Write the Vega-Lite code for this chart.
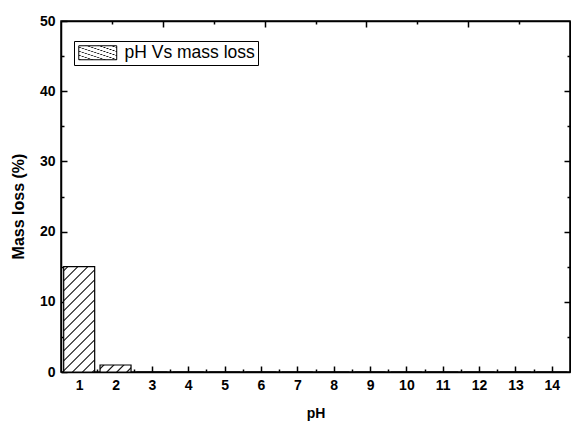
{
  "$schema": "https://vega.github.io/schema/vega-lite/v6.json",
  "width": 509,
  "height": 351,
  "autosize": "none",
  "padding": {"left": 61, "top": 21, "right": 1, "bottom": 49},
  "background": "white",
  "config": {
    "view": {"stroke": "black", "strokeWidth": 1.5},
    "font": "Liberation Sans",
    "axis": {
      "grid": false,
      "zindex": 1,
      "domainColor": "black",
      "domainWidth": 1.5,
      "tickColor": "black",
      "tickWidth": 1.5,
      "labelColor": "black",
      "titleColor": "black",
      "labelFont": "Liberation Sans",
      "labelFontWeight": "bold",
      "labelFontSize": 14,
      "titleFont": "Liberation Sans",
      "titleFontWeight": "bold"
    }
  },
  "data": {
    "values": [
      {"pH": 1, "loss": 15, "series": "pH Vs mass loss"},
      {"pH": 2, "loss": 1, "series": "pH Vs mass loss"},
      {"pH": 3, "loss": 0, "series": "pH Vs mass loss"},
      {"pH": 4, "loss": 0, "series": "pH Vs mass loss"},
      {"pH": 5, "loss": 0, "series": "pH Vs mass loss"},
      {"pH": 6, "loss": 0, "series": "pH Vs mass loss"},
      {"pH": 7, "loss": 0, "series": "pH Vs mass loss"},
      {"pH": 8, "loss": 0, "series": "pH Vs mass loss"},
      {"pH": 9, "loss": 0, "series": "pH Vs mass loss"},
      {"pH": 10, "loss": 0, "series": "pH Vs mass loss"},
      {"pH": 11, "loss": 0, "series": "pH Vs mass loss"},
      {"pH": 12, "loss": 0, "series": "pH Vs mass loss"},
      {"pH": 13, "loss": 0, "series": "pH Vs mass loss"},
      {"pH": 14, "loss": 0, "series": "pH Vs mass loss"}
    ]
  },
  "layer": [
    {
      "mark": {"type": "bar", "orient": "vertical", "width": 31, "stroke": "black", "strokeWidth": 1.2},
      "encoding": {
        "x": {
          "field": "pH", "type": "quantitative",
          "scale": {"domain": [0.5, 14.5], "nice": false, "zero": false, "padding": 0},
          "axis": {"orient": "bottom", "values": [1,2,3,4,5,6,7,8,9,10,11,12,13,14], "format": "d", "tickSize": -6, "labelPadding": 12, "title": "pH", "titleFontSize": 14, "titleY": 45, "titleBaseline": "alphabetic"}
        },
        "y": {
          "field": "loss", "type": "quantitative", "stack": null,
          "scale": {"domain": [0, 50], "nice": false, "padding": 0},
          "axis": {"orient": "left", "values": [0,10,20,30,40,50], "tickSize": -6, "labelPadding": 12, "title": "Mass loss (%)", "titleFontSize": 16, "titleX": -43, "titleY": 185, "titleBaseline": "middle", "titleAlign": "center", "titleAngle": -90}
        },
        "fill": {
          "condition": {
            "test": "datum.pH == 2",
            "value": {
              "gradient": "linear", "x1": 0, "y1": 0, "x2": 1.1663, "y2": 0.2634,
              "stops": [
                {"offset": 0, "color": "white"},
                {"offset": 0.0605, "color": "white"}, {"offset": 0.1, "color": "black"}, {"offset": 0.1395, "color": "white"},
                {"offset": 0.3235, "color": "white"}, {"offset": 0.363, "color": "black"}, {"offset": 0.4025, "color": "white"},
                {"offset": 0.5865, "color": "white"}, {"offset": 0.626, "color": "black"}, {"offset": 0.6655, "color": "white"},
                {"offset": 0.8495, "color": "white"}, {"offset": 0.889, "color": "black"}, {"offset": 0.9285, "color": "white"},
                {"offset": 1, "color": "white"}
              ]
            }
          },
          "value": {
            "gradient": "linear", "x1": 0, "y1": 0, "x2": 0.3507, "y2": 1.1912,
            "stops": [
              {"offset": 0, "color": "white"},
              {"offset": 0.019, "color": "white"}, {"offset": 0.030, "color": "black"}, {"offset": 0.041, "color": "white"},
              {"offset": 0.0924, "color": "white"}, {"offset": 0.1034, "color": "black"}, {"offset": 0.1144, "color": "white"},
              {"offset": 0.1658, "color": "white"}, {"offset": 0.1768, "color": "black"}, {"offset": 0.1878, "color": "white"},
              {"offset": 0.2392, "color": "white"}, {"offset": 0.2502, "color": "black"}, {"offset": 0.2612, "color": "white"},
              {"offset": 0.3126, "color": "white"}, {"offset": 0.3236, "color": "black"}, {"offset": 0.3346, "color": "white"},
              {"offset": 0.386, "color": "white"}, {"offset": 0.397, "color": "black"}, {"offset": 0.408, "color": "white"},
              {"offset": 0.4594, "color": "white"}, {"offset": 0.4704, "color": "black"}, {"offset": 0.4814, "color": "white"},
              {"offset": 0.5328, "color": "white"}, {"offset": 0.5438, "color": "black"}, {"offset": 0.5548, "color": "white"},
              {"offset": 0.6062, "color": "white"}, {"offset": 0.6172, "color": "black"}, {"offset": 0.6282, "color": "white"},
              {"offset": 0.6796, "color": "white"}, {"offset": 0.6906, "color": "black"}, {"offset": 0.7016, "color": "white"},
              {"offset": 0.753, "color": "white"}, {"offset": 0.764, "color": "black"}, {"offset": 0.775, "color": "white"},
              {"offset": 0.8264, "color": "white"}, {"offset": 0.8374, "color": "black"}, {"offset": 0.8484, "color": "white"},
              {"offset": 0.8998, "color": "white"}, {"offset": 0.9108, "color": "black"}, {"offset": 0.9218, "color": "white"},
              {"offset": 0.9732, "color": "white"}, {"offset": 0.9842, "color": "black"}, {"offset": 0.9952, "color": "white"},
              {"offset": 1, "color": "white"}
            ]
          }
        },
        "stroke": {
          "field": "series", "type": "nominal",
          "scale": {"range": ["black"]},
          "legend": {
            "orient": "none", "legendX": 13, "legendY": 20, "title": null,
            "symbolType": "M-2.71,-1H2.71V1H-2.71Z", "symbolSize": 196, "symbolStrokeWidth": 1, "symbolOffset": 12,
            "labelFont": "Liberation Sans", "labelFontSize": 17.5, "labelFontWeight": "normal", "labelColor": "black", "labelOffset": 18,
            "padding": 3, "strokeColor": "black", "fillColor": "white",
            "encode": {
              "symbols": {
                "update": {
                  "stroke": {"value": "black"},
                  "fill": {"value": {
                    "gradient": "linear", "x1": 0, "y1": 0, "x2": 1.205, "y2": 0.444,
                    "stops": [
                      {"offset": 0, "color": "white"},
                      {"offset": 0.071, "color": "white"}, {"offset": 0.1, "color": "black"}, {"offset": 0.129, "color": "white"},
                      {"offset": 0.263, "color": "white"}, {"offset": 0.292, "color": "black"}, {"offset": 0.321, "color": "white"},
                      {"offset": 0.456, "color": "white"}, {"offset": 0.485, "color": "black"}, {"offset": 0.514, "color": "white"},
                      {"offset": 0.648, "color": "white"}, {"offset": 0.677, "color": "black"}, {"offset": 0.706, "color": "white"},
                      {"offset": 0.84, "color": "white"}, {"offset": 0.869, "color": "black"}, {"offset": 0.898, "color": "white"},
                      {"offset": 1, "color": "white"}
                    ]
                  }},
                  "opacity": {"value": 1}
                }
              }
            }
          }
        }
      }
    },
    {
      "mark": {"type": "point", "opacity": 0},
      "encoding": {
        "x": {"field": "pH", "type": "quantitative", "scale": {"domain": [0.5, 14.5], "nice": false, "zero": false, "padding": 0},
          "axis": {"orient": "bottom", "values": [1.5,2.5,3.5,4.5,5.5,6.5,7.5,8.5,9.5,10.5,11.5,12.5,13.5], "tickSize": -3, "labels": false, "title": null, "domain": false}},
        "y": {"field": "loss", "type": "quantitative", "scale": {"domain": [0, 50], "nice": false, "padding": 0},
          "axis": {"orient": "left", "values": [5,15,25,35,45], "tickSize": -3, "labels": false, "title": null, "domain": false}}
      }
    },
    {
      "mark": {"type": "point", "opacity": 0},
      "encoding": {
        "x": {"field": "pH", "type": "quantitative", "scale": {"domain": [0.5, 14.5], "nice": false, "zero": false, "padding": 0},
          "axis": {"orient": "top", "values": [3.3,6.1,8.9,11.7], "tickSize": -6, "labels": false, "title": null}},
        "y": {"field": "loss", "type": "quantitative", "scale": {"domain": [0, 50], "nice": false, "padding": 0},
          "axis": {"orient": "right", "values": [10,20,30,40], "tickSize": -6, "labels": false, "title": null}}
      }
    },
    {
      "mark": {"type": "point", "opacity": 0},
      "encoding": {
        "x": {"field": "pH", "type": "quantitative", "scale": {"domain": [0.5, 14.5], "nice": false, "zero": false, "padding": 0},
          "axis": {"orient": "top", "values": [1.9,4.7,7.5,10.3,13.1], "tickSize": -3, "labels": false, "title": null, "domain": false}},
        "y": {"field": "loss", "type": "quantitative", "scale": {"domain": [0, 50], "nice": false, "padding": 0},
          "axis": {"orient": "right", "values": [5,15,25,35,45], "tickSize": -3, "labels": false, "title": null, "domain": false}}
      }
    }
  ],
  "resolve": {"axis": {"x": "independent", "y": "independent"}}
}
